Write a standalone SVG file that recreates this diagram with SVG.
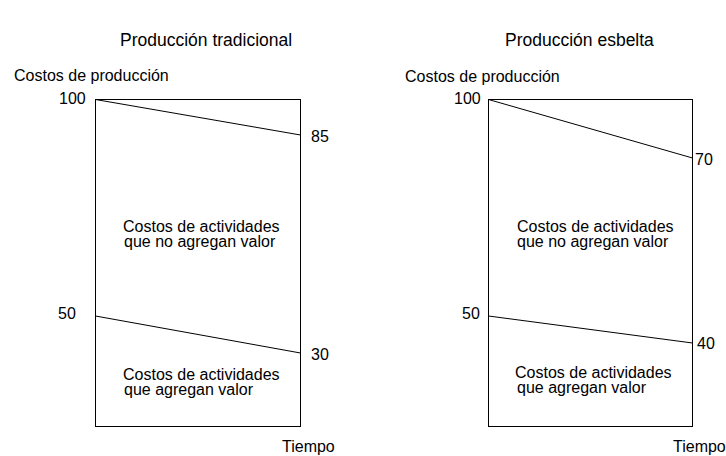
<svg xmlns="http://www.w3.org/2000/svg" width="726" height="456" viewBox="0 0 726 456">
<style>
text{font-family:"Liberation Sans",Arial,sans-serif;font-size:16px;fill:#000}
.title{font-size:17.5px}
.ln{stroke:#000;stroke-width:1;fill:none}
</style>
<rect width="726" height="456" fill="#fff"/>
<g id="tradicional">
<text class="title" x="120" y="46">Producción tradicional</text>
<text x="14" y="81">Costos de producción</text>
<rect class="ln" x="95.5" y="99.5" width="205" height="327"/>
<text x="59" y="104">100</text>
<text x="58" y="319">50</text>
<text x="311" y="142">85</text>
<text x="311" y="360">30</text>
<text x="123" y="232">Costos de actividades</text>
<text x="124" y="247">que no agregan valor</text>
<text x="123" y="380">Costos de actividades</text>
<text x="124" y="395">que agregan valor</text>
<text x="282" y="452">Tiempo</text>
</g>
<g id="esbelta">
<text class="title" x="505" y="46">Producción esbelta</text>
<text x="405" y="82">Costos de producción</text>
<rect class="ln" x="488.5" y="99.5" width="204" height="327"/>
<text x="454" y="104">100</text>
<text x="462" y="319">50</text>
<text x="695" y="165">70</text>
<text x="697" y="349">40</text>
<text x="517" y="232">Costos de actividades</text>
<text x="517" y="247">que no agregan valor</text>
<text x="515" y="378">Costos de actividades</text>
<text x="517" y="393">que agregan valor</text>
<text x="673" y="452">Tiempo</text>
</g>
<g id="connectors">
<line class="ln" x1="95.5" y1="99.5" x2="300.5" y2="135"/>
<line class="ln" x1="95.5" y1="316" x2="300.5" y2="353"/>
<line class="ln" x1="488.5" y1="99.5" x2="692.5" y2="158"/>
<line class="ln" x1="488.5" y1="316" x2="692.5" y2="343"/>
</g>
</svg>
